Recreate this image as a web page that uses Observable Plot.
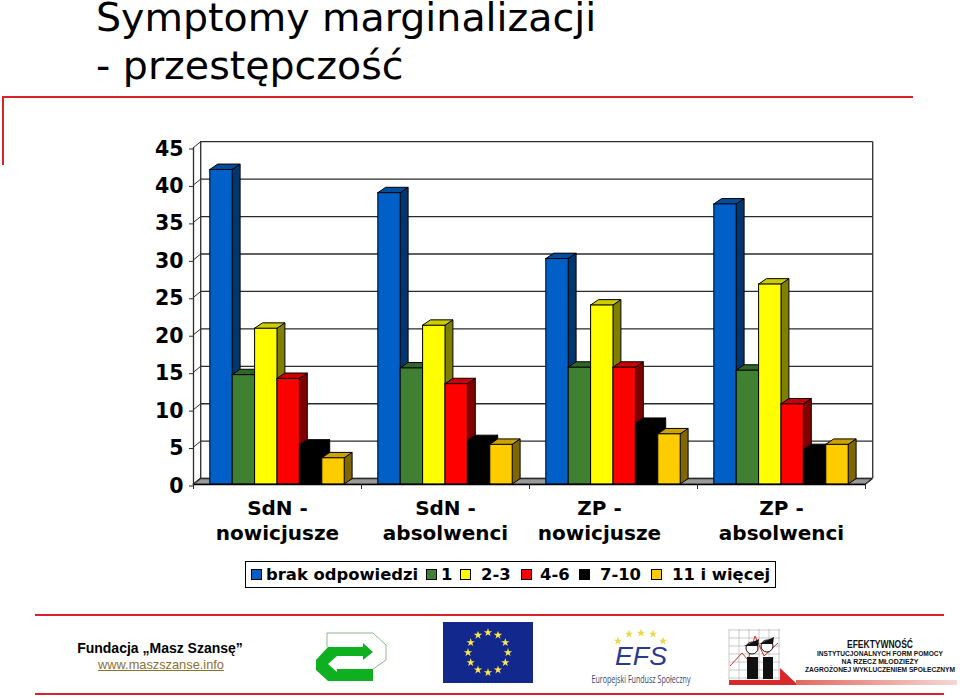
<!DOCTYPE html>
<html lang="pl">
<head>
<meta charset="utf-8">
<script src="https://cdn.jsdelivr.net/npm/d3@7"></script>
<script src="https://cdn.jsdelivr.net/npm/@observablehq/plot@0.6"></script>
<style>
html,body{margin:0;padding:0;background:#fff;width:960px;height:698px;overflow:hidden}
#page{position:relative;width:960px;height:698px}
h1{position:absolute;left:96px;top:0;margin:0;font:400 39.5px/34px "DejaVu Sans";color:#000;white-space:nowrap}
h1 span{display:block;height:34px;margin-bottom:14px}
.red{position:absolute;background:#d8232a}
#chart{position:absolute;left:0;top:130px}
#legend{position:absolute;left:245px;top:561px;width:529px;height:25px;border:1px solid #000;background:#fff;font:700 16.4px/25px "DejaVu Sans";color:#000}
#legend span{position:absolute;top:0;white-space:nowrap}
#legend i{position:absolute;top:7px;width:9px;height:9px;border:1px solid #000}
.ft{position:absolute;white-space:nowrap;text-align:center;transform:translateX(-50%)}
</style>
</head>
<body>
<div id="page">
<h1><span>Symptomy marginalizacji</span><span>- przestępczość</span></h1>
<div class="red" style="left:2px;top:96px;width:911px;height:2px"></div>
<div class="red" style="left:2px;top:96px;width:2px;height:69px"></div>
<div id="chart"></div>
<div id="legend"></div>
<div class="red" style="left:35px;top:614px;width:909px;height:2px"></div>
<div class="red" style="left:35px;top:693px;width:909px;height:2px"></div>
<div class="ft" style="left:160px;top:639px;font:700 14px/18px 'Liberation Sans';color:#000">Fundacja „Masz Szansę”</div>
<div class="ft" style="left:161px;top:656px;font:400 12.8px/17px 'Liberation Sans';color:#8a7230;text-decoration:underline">www.maszszanse.info</div>
<svg id="logos" width="960" height="698" style="position:absolute;left:0;top:0;pointer-events:none"></svg>
</div>
<script>
const categories = ["SdN -\nnowicjusze", "SdN -\nabsolwenci", "ZP -\nnowicjusze", "ZP -\nabsolwenci"];
const seriesNames = ["brak odpowiedzi", "1", "2-3", "4-6", "7-10", "11 i więcej"];
const brakOdpowiedzi = [42.0, 38.9, 30.1, 37.4];
const jeden = [14.6, 15.5, 15.6, 15.2];
const dwaTrzy = [20.8, 21.2, 23.9, 26.7];
const czterySzesc = [14.1, 13.4, 15.6, 10.7];
const siedemDziesiec = [5.2, 5.8, 8.1, 4.6];
const jedenascieWiecej = [3.5, 5.3, 6.7, 5.3];
const yTicks = [0, 5, 10, 15, 20, 25, 30, 35, 40, 45];
const seriesValues = [brakOdpowiedzi, jeden, dwaTrzy, czterySzesc, siedemDziesiec, jedenascieWiecej];

const frontColors = ["#0060c8", "#3f8033", "#ffff00", "#ff0000", "#000000", "#ffcc00"];
const sideColors = ["#003670", "#24491d", "#808000", "#800000", "#000000", "#806600"];
const topColors = ["#004da0", "#326629", "#cccc00", "#cc0000", "#000000", "#cca300"];

const barW = 0.8 / 6, gapLeft = 0.1;
const barDx = 0.047, barDy = 0.72, wallDx = 0.043, wallDy = 0.78;
const ink = "#000", gridInk = "#2b2b2b";

const rows = seriesValues.map((vals, s) => vals.map((v, c) => {
  const x0 = c + gapLeft + s * barW;
  return {id: `${s}-${c}`, x0, x1: x0 + barW, v, c, s};
}));

const barMarks = rows.flatMap((r, s) => {
  const side = r.flatMap(d => [
    {id: d.id, x: d.x1, lo: 0, hi: d.v},
    {id: d.id, x: d.x1 + barDx, lo: barDy, hi: d.v + barDy}
  ]);
  const top = r.flatMap(d => [
    {id: d.id, xa: d.x0, xb: d.x1, y: d.v},
    {id: d.id, xa: d.x0 + barDx, xb: d.x1 + barDx, y: d.v + barDy}
  ]);
  return [
    Plot.area(side, {x1: "x", y1: "lo", y2: "hi", z: "id", fill: sideColors[s], stroke: ink, strokeWidth: 1, curve: "linear"}),
    Plot.area(top, {x1: "xa", x2: "xb", y1: "y", z: "id", fill: topColors[s], stroke: ink, strokeWidth: 1, curve: "linear"}),
    Plot.rect(r, {x1: "x0", x2: "x1", y1: () => 0, y2: "v", fill: frontColors[s], stroke: ink, strokeWidth: 1})
  ];
});

const floor = [
  {x: 0, a: 0, b: 4},
  {x: wallDy, a: wallDx, b: 4 + wallDx}
];
const labelRows = categories.map((t, i) => ({t, x: i + 0.5, i}));

const svg = Plot.plot({
  width: 960, height: 430,
  marginTop: 17, marginBottom: 76, marginLeft: 193, marginRight: 95,
  x: {domain: [0, 4], axis: null},
  y: {domain: [0, 45], axis: null},
  style: {fontFamily: "DejaVu Sans", fontWeight: "bold", color: "#000", background: "transparent", overflow: "visible"},
  marks: [
    Plot.area(floor, {x1: "a", x2: "b", y1: "x", fill: "#999", stroke: "#222", strokeWidth: 1, curve: "linear"}),
    Plot.ruleY(yTicks, {x1: () => wallDx, x2: () => 4 + wallDx, y: d => d + wallDy, stroke: gridInk, strokeWidth: 1.3}),
    Plot.link(yTicks, {x1: () => 0, y1: d => d, x2: () => wallDx, y2: d => d + wallDy, stroke: gridInk, strokeWidth: 1}),
    Plot.ruleX([wallDx], {y1: () => wallDy, y2: () => 45 + wallDy, stroke: gridInk, strokeWidth: 1.3}),
    Plot.ruleX([4 + wallDx], {y1: () => wallDy, y2: () => 45 + wallDy, stroke: gridInk, strokeWidth: 1.3}),
    Plot.ruleX([0], {y1: () => 0, y2: () => 45, stroke: gridInk, strokeWidth: 1.3}),
    Plot.link([4], {x1: d => d, y1: () => 0, x2: d => d + wallDx, y2: () => wallDy, stroke: gridInk, strokeWidth: 1}),
    ...barMarks,
    Plot.ruleY([0], {stroke: ink, strokeWidth: 1.3}),
    Plot.axisY(yTicks, {anchor: "left", label: null, tickSize: 4, tickPadding: 6, fontSize: 20.5, fontWeight: "bold", stroke: gridInk, textStroke: "none", dy: 1.5}),
    Plot.axisX([0, 1, 2, 3, 4], {anchor: "bottom", label: null, tickSize: 5, tickFormat: () => "", stroke: gridInk}),
    Plot.text(labelRows.filter(d => d.i !== 2), {x: "x", y: () => 0, dy: 34.5, text: "t", fontSize: 20, fontWeight: "bold", lineHeight: 1.25, fill: "#000"}),
    Plot.text(labelRows.filter(d => d.i === 2), {x: "x", y: () => 0, dy: 34.5, dx: -14, text: "t", fontSize: 20, fontWeight: "bold", lineHeight: 1.25, fill: "#000"})
  ]
});
document.getElementById("chart").append(svg);

// legend
const legend = document.getElementById("legend");
const swLeft = [5, 180, 214, 275, 333, 405];
const txLeft = [20, 195, 235, 294, 354, 426];
seriesNames.forEach((n, i) => {
  const sw = document.createElement("i");
  sw.style.left = swLeft[i] + "px";
  sw.style.background = frontColors[i];
  const tx = document.createElement("span");
  tx.style.left = txLeft[i] + "px";
  tx.textContent = n;
  legend.append(sw, tx);
});

// footer logos (decorative)
const lg = d3.select("#logos");
const star = d3.symbol(d3.symbolStar);
const addStar = (x, y, size, col) => lg.append("path").attr("d", star.size(size)()).attr("transform", `translate(${x},${y})`).attr("fill", col);
// arrow logo
lg.append("path").attr("d", "M327 633H373L386 645V660L373 669").attr("fill", "#fff").attr("stroke", "#8fb88f").attr("stroke-width", 1);
lg.append("path").attr("d", "M327 633V647").attr("stroke", "#8fb88f").attr("stroke-width", 1);
lg.append("path").attr("d", "M316 660L328 647H363V643L373 652L363 660V656H337L328 664L337 672V669H373V681H328L316 670Z").attr("fill", "#0fb01f");
// EU flag
lg.append("rect").attr("x", 443).attr("y", 622).attr("width", 90).attr("height", 61).attr("fill", "#12288c");
d3.range(12).forEach(i => {
  const a = i * Math.PI / 6;
  addStar(488 + 20 * Math.sin(a), 652.5 - 20 * Math.cos(a), 22, "#ffe94a");
});
// EFS
[[618, 641], [629, 634], [641, 633], [653, 634], [663, 641]].forEach(([x, y]) => addStar(x, y, 22, "#e8d84a"));
lg.append("text").attr("x", 641).attr("y", 665).attr("text-anchor", "middle").attr("font-family", "Liberation Sans").attr("font-style", "italic").attr("font-size", 25).attr("fill", "#2b3a8c").attr("textLength", 52).attr("lengthAdjust", "spacingAndGlyphs").text("EFS");
lg.append("text").attr("x", 641).attr("y", 683).attr("text-anchor", "middle").attr("font-family", "Open Sans").attr("font-size", 10.5).attr("fill", "#3a4468").attr("textLength", 99).attr("lengthAdjust", "spacingAndGlyphs").text("Europejski Fundusz Społeczny");
// right logo grid + figures
const grid = lg.append("g").attr("stroke", "#aaa").attr("stroke-width", 0.6);
d3.range(6).forEach(i => grid.append("line").attr("x1", 729 + i * 10).attr("x2", 729 + i * 10).attr("y1", 629).attr("y2", 680));
d3.range(7).forEach(i => grid.append("line").attr("x1", 729).attr("x2", 780).attr("y1", 630 + i * 8).attr("y2", 630 + i * 8));
lg.append("path").attr("d", "M730 666L742 653L748 660L755 636L764 656L778 643").attr("fill", "none").attr("stroke", "#d03030").attr("stroke-width", 1);
lg.append("path").attr("d", "M747 657H758V679H747ZM763 657H773V679H763Z").attr("fill", "#111");
[[752, 648], [767, 646]].forEach(([x, y]) => {
  lg.append("ellipse").attr("cx", x).attr("cy", y).attr("rx", 6).attr("ry", 6).attr("fill", "#fff").attr("stroke", "#111").attr("stroke-width", 1);
  lg.append("path").attr("d", `M${x - 8} ${y - 2}L${x + 7} ${y - 9}L${x + 6} ${y - 2}Z`).attr("fill", "#111");
});
lg.append("path").attr("d", "M729 680H780V668L798 685H729Z").attr("fill", "#d8282a");
const gd = lg.append("defs").append("linearGradient").attr("id", "fade");
gd.append("stop").attr("offset", 0).attr("stop-color", "#e2695f");
gd.append("stop").attr("offset", 1).attr("stop-color", "#f6d8d2");
lg.append("rect").attr("x", 796).attr("y", 680).attr("width", 161).attr("height", 5).attr("fill", "url(#fade)");
[["EFEKTYWNOŚĆ", 648, 10.5, 66], ["INSTYTUCJONALNYCH FORM POMOCY", 656, 6.6, 126], ["NA RZECZ MŁODZIEŻY", 664, 6.6, 77], ["ZAGROŻONEJ WYKLUCZENIEM SPOŁECZNYM", 672, 6.4, 150]].forEach(([t, y, s, l]) => {
  lg.append("text").attr("x", 880).attr("y", y).attr("text-anchor", "middle").attr("font-family", "Liberation Sans").attr("font-weight", 700).attr("font-size", s).attr("fill", "#111").attr("textLength", l).attr("lengthAdjust", "spacingAndGlyphs").text(t);
});
</script>
</body>
</html>
